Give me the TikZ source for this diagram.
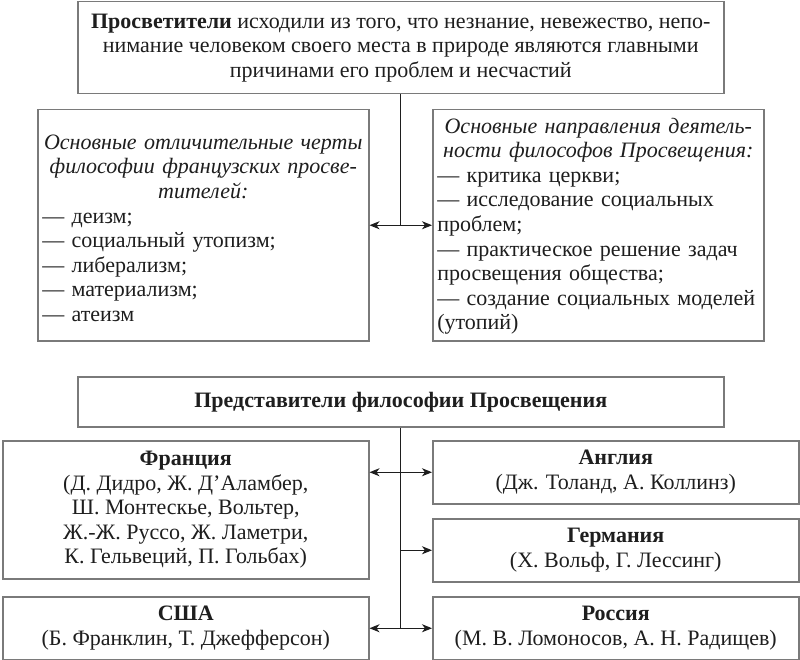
\documentclass[tikz,border=0pt]{standalone}
\usepackage{fontspec}
\setmainfont{Liberation Serif}
\usetikzlibrary{arrows.meta}
\definecolor{boxgray}{HTML}{7A7A7A}
\definecolor{ink}{HTML}{1E1E1E}
\newcommand{\fsz}{\fontsize{22}{24.6}\selectfont}
\begin{document}
\begin{tikzpicture}[x=1pt,y=-1pt,
  box/.style={draw=boxgray, line width=1.5pt, anchor=north west, inner sep=0pt,
    align=center, font=\fsz, text=ink},
  link/.style={draw=ink, line width=1.1pt},
  arr/.style={link, -{Stealth[length=10pt,width=8pt,inset=3pt]}},
  darr/.style={link, {Stealth[length=10pt,width=8pt,inset=3pt]}-{Stealth[length=10pt,width=8pt,inset=3pt]}}]
\useasboundingbox (0,0) rectangle (800,660);
\fill[white] (0,0) rectangle (800,660);

\node[box, minimum width=646pt, minimum height=92pt] (top) at (77,1)
  {\textbf{Просветители} исходили из того, что незнание, невежество, непо-\\
   нимание человеком своего места в природе являются главными\\
   причинами его проблем и несчастий};

\node[box, minimum width=331pt, minimum height=231pt] (left) at (37,109) {};
\node[font=\fsz, text=ink, text width=322pt, align=left, inner sep=0pt] (lefttext) at ([yshift=-3pt]left.center)
  {{\centering\itshape Основные отличительные черты\\
   философии французских просве-\\
   тителей:\par}
   — деизм;\\
   — социальный утопизм;\\
   — либерализм;\\
   — материализм;\\
   — атеизм};

\node[box, minimum width=331pt, minimum height=231pt] (right) at (432,109) {};
\node[font=\fsz, text=ink, text width=322pt, align=left, inner sep=0pt] (righttext) at ([yshift=-1pt]right.center)
  {{\centering\itshape Основные направления деятель-\\
   ности философов Просвещения:\par}
   — критика церкви;\\
   — исследование социальных\\
   проблем;\\
   — практическое решение задач\\
   просвещения общества;\\
   — создание социальных моделей\\
   (утопий)};

\node[box, minimum width=646pt, minimum height=50pt] (repr) at (77,376)
  {\textbf{Представители философии Просвещения}};

\node[box, minimum width=366pt, minimum height=138pt] (france) at (2,440)
  {\textbf{Франция}\\
   (Д. Дидро, Ж. Д'Аламбер,\\
   Ш. Монтескье, Вольтер,\\
   Ж.-Ж. Руссо, Ж. Ламетри,\\
   К. Гельвеций, П. Гольбах)};

\node[box, minimum width=366pt, minimum height=63pt] (england) at (432,440)
  {\textbf{Англия}\\
   (Дж. Толанд, А. Коллинз)};

\node[box, minimum width=366pt, minimum height=63pt] (germany) at (432,518)
  {\textbf{Германия}\\
   (Х. Вольф, Г. Лессинг)};

\node[box, minimum width=366pt, minimum height=63pt] (usa) at (2,596)
  {\textbf{США}\\
   (Б. Франклин, Т. Джефферсон)};

\node[box, minimum width=366pt, minimum height=63pt] (russia) at (432,596)
  {\textbf{Россия}\\
   (М. В. Ломоносов, А. Н. Радищев)};

% connectors
\draw[link] (top.south) -- (top.south |- left.east);
\draw[darr] (left.east) -- (right.west);

\draw[link] (repr.south) -- (repr.south |- russia.west);
\draw[darr] (england.west -| france.east) -- (england.west);
\draw[arr] (germany.west -| repr.south) -- (germany.west);
\draw[darr] (usa.east |- russia.west) -- (russia.west);
\end{tikzpicture}
\end{document}
